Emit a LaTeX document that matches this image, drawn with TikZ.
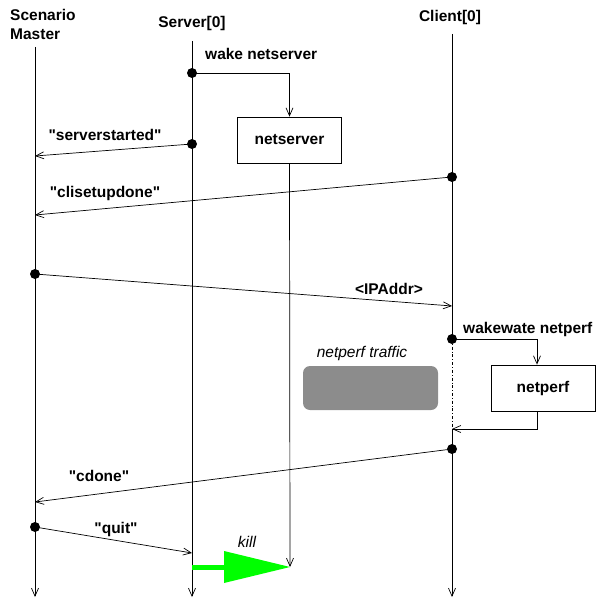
\documentclass[tikz,border=0pt]{standalone}
\usepackage{fontspec}
\setmainfont{Liberation Sans}[Ligatures=TeXOff]
\usetikzlibrary{arrows.meta}
\begin{document}
\begin{tikzpicture}[x=1pt,y=-1pt,
  lbl/.style={font=\bfseries\fontsize{15.5}{19}\selectfont, inner sep=0pt},
  ital/.style={font=\itshape\fontsize{15.5}{19}\selectfont, inner sep=0pt},
  ln/.style={line width=0.7pt},
  arr/.style={line width=0.7pt, -{Straight Barb[length=8pt,width=7pt]}},
  dot/.style={circle, fill=black, inner sep=0pt, minimum size=10pt},
  procbox/.style={draw, line width=0.7pt, inner sep=0pt, font=\bfseries\fontsize{15.5}{19}\selectfont}
]
\useasboundingbox (0,0) rectangle (595,599);
% titles
\node[lbl, anchor=base west, align=left] (tSM) at (10,40) {Scenario\\Master};
\node[lbl, anchor=base] (tS) at (192,28) {Server[0]};
\node[lbl, anchor=base] (tC) at (450,22) {Client[0]};
% lifeline coordinates
\coordinate (m0) at (35,47);
\coordinate (m1) at (35,597);
\coordinate (s0) at (192,41);
\coordinate (s1) at (192,597);
\coordinate (c0) at (452,34);
\coordinate (c1) at (452,597);
% boxes
\node[procbox, minimum width=104pt, minimum height=46pt] (nsbox) at (289.5,140) {netserver};
\node[procbox, minimum width=104pt, minimum height=46pt] (npbox) at (543,388) {netperf};
\node[fill=black!45, rounded corners=7pt, minimum width=135pt, minimum height=44pt, inner sep=0pt] (traffic) at (370.5,388) {};
% lifelines
\draw[arr] (m0) -- (m1);
\draw[arr] (s0) -- (s1);
\draw[ln] (c0) -- (452,339);
\draw[ln, dash dot] (452,339) -- (452,429);
\draw[arr] (452,429) -- (c1);
% dots
\node[dot] (d1) at (192,73) {};
\node[dot] (d2) at (192,144) {};
\node[dot] (d3) at (452,177) {};
\node[dot] (d4) at (35,274) {};
\node[dot] (d5) at (452,339) {};
\node[dot] (d6) at (452,449) {};
\node[dot] (d7) at (35,527) {};
% targets
\coordinate (r2) at (35,156);
\coordinate (r3) at (35,215);
\coordinate (r4) at (452,306);
\coordinate (r6) at (35,502);
\coordinate (r7) at (192,553);
\coordinate (rn) at (452,429);
\coordinate (kend) at (290,567);
% messages
\draw[arr] (d1.center) -| (nsbox.north);
\draw[arr] (d2.center) -- (r2);
\draw[arr] (d3.center) -- (r3);
\draw[arr] (d4.center) -- (r4);
\draw[arr] (d5.center) -| (npbox.north -| 537,0);
\draw[arr] (npbox.south -| 537,0) |- (rn);
\draw[arr] (d6.center) -- (r6);
\draw[arr] (d7.center) -- (r7);
\draw[arr] (nsbox.south) -- (kend);
% kill arrow
\coordinate (k0) at (192,567);
\draw[green, line width=5pt] (k0) -- (225,567);
\fill[green] (224,551) -- (kend) -- (224,583) -- cycle;
% labels
\node[lbl, anchor=base west] (l1) at (205,60) {wake netserver};
\node[lbl, anchor=base] (l2) at (105,140) {"serverstarted"};
\node[lbl, anchor=base] (l3) at (105,197) {"clisetupdone"};
\node[lbl, anchor=base] (l4) at (389,294) {<IPAddr>};
\node[lbl, anchor=base west] (l5) at (463,333) {wakewate netperf};
\node[ital, anchor=base] (l6) at (362,357) {netperf traffic};
\node[lbl, anchor=base] (l7) at (99,481) {"cdone"};
\node[lbl, anchor=base] (l8) at (116,533) {"quit"};
\node[ital, anchor=base] (l9) at (247,547) {kill};
\end{tikzpicture}
\end{document}
